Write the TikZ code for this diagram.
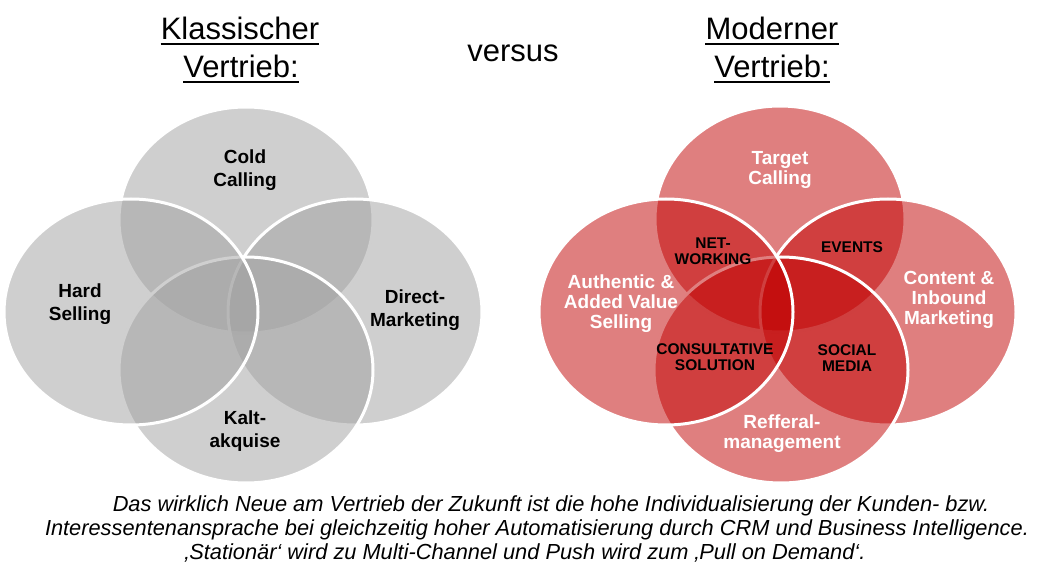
\documentclass[tikz,border=0pt]{standalone}
\usepackage{fontspec}
\setmainfont{Liberation Sans}
\definecolor{vgray}{RGB}{160,160,160}
\definecolor{vred}{RGB}{192,0,0}
\tikzset{
  vgrey/.style={fill=vgray,fill opacity=0.5,draw=white,draw opacity=1,line width=3pt},
  vredfill/.style={fill=vred,fill opacity=0.5,draw=white,draw opacity=1,line width=3pt},
  titletext/.style={font=\fontsize{31}{36}\selectfont,inner sep=0pt,anchor=base},
  outl/.style={font=\bfseries\fontsize{19}{23}\selectfont,align=center,inner sep=0pt},
  outr/.style={font=\bfseries\fontsize{19}{20}\selectfont,align=center,inner sep=0pt,text=white},
  innerlab/.style={font=\bfseries\fontsize{15.5}{16.5}\selectfont,align=center,inner sep=0pt},
  captext/.style={font=\itshape\fontsize{21.8}{24}\selectfont,inner sep=0pt,anchor=base},
  uline/.style={line width=2pt}
}
\begin{document}
\begin{tikzpicture}[x=1pt,y=-1pt]
\useasboundingbox (0,0) rectangle (1052,585);
% left Venn (order: top, right, bottom, left)
\filldraw[vgrey] (246,220) ellipse [x radius=127,y radius=113];
\filldraw[vgrey] (355,312) ellipse [x radius=127,y radius=113];
\filldraw[vgrey] (246,370) ellipse [x radius=127,y radius=113];
\filldraw[vgrey] (131,312) ellipse [x radius=127,y radius=113];
% right Venn
\filldraw[vredfill] (780,219) ellipse [x radius=125,y radius=113];
\filldraw[vredfill] (888,312) ellipse [x radius=128,y radius=113];
\filldraw[vredfill] (781,370) ellipse [x radius=127,y radius=113];
\filldraw[vredfill] (666,312) ellipse [x radius=127,y radius=113];
% titles
\node[titletext] (k1) at (240,40) {Klassischer};
\node[titletext] (k2) at (241,78) {Vertrieb:};
\node[titletext] (vs) at (513,62) {versus};
\node[titletext] (m1) at (772,40) {Moderner};
\node[titletext] (m2) at (772,78) {Vertrieb:};
\draw[uline] ([yshift=-4pt]k1.base west) -- ([yshift=-4pt]k1.base east);
\draw[uline] ([yshift=-4pt]k2.base west) -- ([yshift=-4pt]k2.base east);
\draw[uline] ([yshift=-4pt]m1.base west) -- ([yshift=-4pt]m1.base east);
\draw[uline] ([yshift=-4pt]m2.base west) -- ([yshift=-4pt]m2.base east);
% left labels
\node[outl] (cold) at (245,170) {Cold\\Calling};
\node[outl] (hard) at (80,304) {Hard\\Selling};
\node[outl] (dm) at (415,310) {Direct-\\Marketing};
\node[outl] (ka) at (245,431) {Kalt-\\akquise};
% right labels
\node[outr] (tc) at (780,170) {Target\\Calling};
\node[outr] (auth) at (621,304) {Authentic \&\\Added Value\\Selling};
\node[outr] (cim) at (949,300) {Content \&\\Inbound\\Marketing};
\node[outr] (ref) at (782,434) {Refferal-\\management};
\node[innerlab] (net) at (713,251) {NET-\\WORKING};
\node[innerlab] (ev) at (852,247) {EVENTS};
\node[innerlab] (cs) at (715,357) {CONSULTATIVE\\SOLUTION};
\node[innerlab] (sm) at (847,358) {SOCIAL\\MEDIA};
% caption
\node[captext] (c1) at (551,511) {Das wirklich Neue am Vertrieb der Zukunft ist die hohe Individualisierung der Kunden- bzw.};
\node[captext] (c2) at (537,535) {Interessentenansprache bei gleichzeitig hoher Automatisierung durch CRM und Business Intelligence.};
\node[captext] (c3) at (525,559) {‚Stationär‘ wird zu Multi-Channel und Push wird zum ‚Pull on Demand‘.};
\end{tikzpicture}
\end{document}
